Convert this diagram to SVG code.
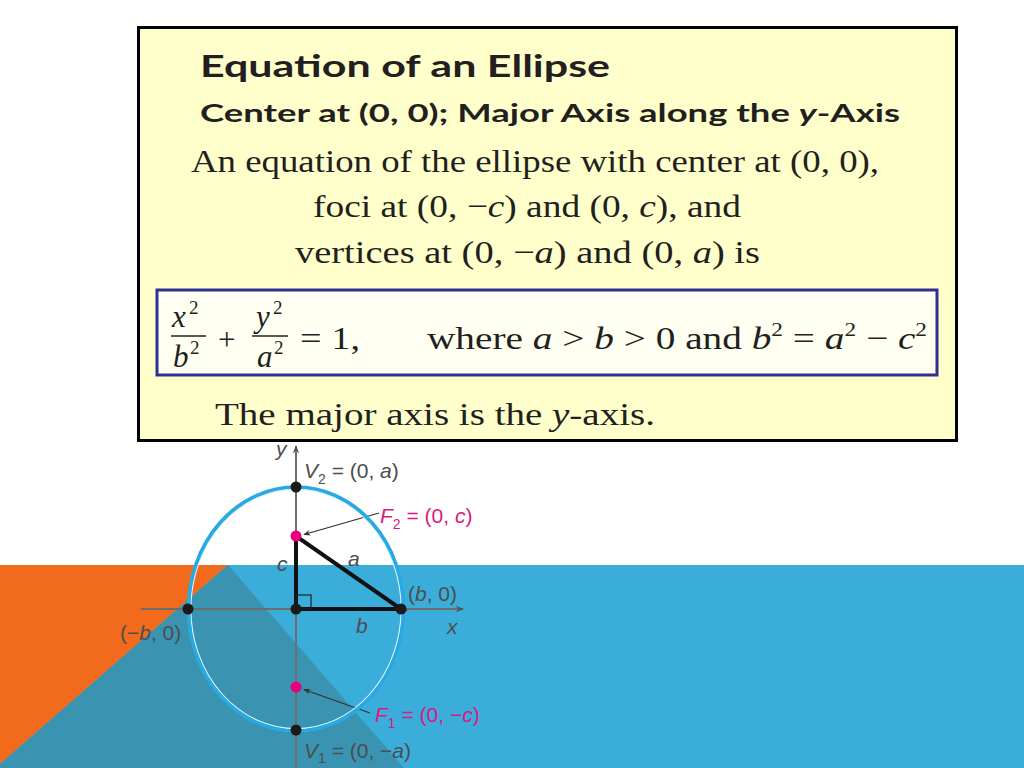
<svg xmlns="http://www.w3.org/2000/svg" width="1024" height="768" viewBox="0 0 1024 768">
<style>
.ttl{font-family:Lato,"Open Sans",sans-serif;font-weight:bold;fill:#231f20}
.ser{font-family:"Liberation Serif","Times New Roman",serif;fill:#231f20}
.it{font-style:italic}
.lab{font-family:"Liberation Sans",Arial,sans-serif;font-size:21px;fill:#4d4d4d}
.mag{fill:#d81b7f}
.ax{stroke:#6d6d6d;stroke-width:2;fill:none}
.dot{fill:#1a1a1a}
.fdot{fill:#e6007e}
.tri{stroke:#111;stroke-width:4;fill:none;stroke-linejoin:miter}
.ptr{stroke:#333;stroke-width:1.3;fill:none}
</style>
<defs>
<marker id="axh" viewBox="0 0 10 10" refX="9" refY="5" markerWidth="10" markerHeight="8" orient="auto" markerUnits="userSpaceOnUse">
<path d="M0,1 L10,5 L0,9 L3,5 Z" fill="#555"/>
</marker>
<marker id="ph" viewBox="0 0 10 10" refX="9" refY="5" markerWidth="10" markerHeight="7" orient="auto" markerUnits="userSpaceOnUse">
<path d="M0,1 L10,5 L0,9 L3,5 Z" fill="#333"/>
</marker>
</defs>
<rect width="1024" height="768" fill="#ffffff"/>
<g id="background">
<rect x="0" y="565" width="1024" height="203" fill="#3badda"/>
<polygon points="0,565 228,565 0,764" fill="#f26b1d"/>
<polygon points="228,565 404,768 0,768 0,764" fill="#3a94b1"/>
</g>
<g id="textbox">
<rect x="138.5" y="27.5" width="818" height="413" fill="#ffffcc" stroke="#000" stroke-width="3"/>
<text class="ttl" x="200" y="77" font-size="31" textLength="410" lengthAdjust="spacingAndGlyphs">Equation of an Ellipse</text>
<text class="ttl" x="200" y="122" font-size="24" textLength="700" lengthAdjust="spacingAndGlyphs">Center at (0, 0); Major Axis along the <tspan class="it">y</tspan>-Axis</text>
<text class="ser" x="191" y="172" font-size="32" textLength="688" lengthAdjust="spacingAndGlyphs">An equation of the ellipse with center at (0, 0),</text>
<text class="ser" x="313" y="217" font-size="32" textLength="428" lengthAdjust="spacingAndGlyphs">foci at (0, −<tspan class="it">c</tspan>) and (0, <tspan class="it">c</tspan>), and</text>
<text class="ser" x="295" y="263" font-size="32" textLength="465" lengthAdjust="spacingAndGlyphs">vertices at (0, −<tspan class="it">a</tspan>) and (0, <tspan class="it">a</tspan>) is</text>
<text class="ser" x="215" y="425" font-size="32" textLength="440" lengthAdjust="spacingAndGlyphs">The major axis is the <tspan class="it">y</tspan>-axis.</text>
</g>
<g id="formula">
<rect x="157" y="290" width="780" height="85" fill="#fffff2" stroke="#2e3192" stroke-width="3"/>
<text class="ser it" x="172" y="327" font-size="31">x</text>
<text class="ser" x="189" y="314" font-size="19">2</text>
<line x1="171" y1="336" x2="206" y2="336" stroke="#231f20" stroke-width="1.4"/>
<text class="ser it" x="173" y="367" font-size="31">b</text>
<text class="ser" x="190" y="354" font-size="19">2</text>
<text class="ser" x="218" y="350" font-size="31">+</text>
<text class="ser it" x="256" y="327" font-size="31">y</text>
<text class="ser" x="273" y="314" font-size="19">2</text>
<line x1="252" y1="336" x2="288" y2="336" stroke="#231f20" stroke-width="1.4"/>
<text class="ser it" x="257" y="367" font-size="31">a</text>
<text class="ser" x="274" y="354" font-size="19">2</text>
<text class="ser" x="300" y="349" font-size="31" textLength="60" lengthAdjust="spacingAndGlyphs">= 1,</text>
<text class="ser" x="427" y="349" font-size="32" textLength="500" lengthAdjust="spacingAndGlyphs">where <tspan class="it">a</tspan> &gt; <tspan class="it">b</tspan> &gt; 0 and <tspan class="it">b</tspan><tspan font-size="19" dy="-13">2</tspan><tspan dy="13"> = </tspan><tspan class="it">a</tspan><tspan font-size="19" dy="-13">2</tspan><tspan dy="13"> − </tspan><tspan class="it">c</tspan><tspan font-size="19" dy="-13">2</tspan></text>
</g>
<g id="connectors">
<line class="ax" x1="296" y1="768" x2="296" y2="446" marker-end="url(#axh)"/>
<line class="ax" x1="141" y1="609" x2="463" y2="609" marker-end="url(#axh)"/>
<line class="ptr" x1="379" y1="513" x2="304" y2="534.5" marker-end="url(#ph)"/>
<line class="ptr" x1="370" y1="713" x2="304" y2="689.5" marker-end="url(#ph)"/>
</g>
<g id="ellipse">
<ellipse cx="296" cy="609" rx="105.3" ry="119.8" fill="none" stroke="#dff2fb" stroke-width="1.4"/>
<ellipse cx="296" cy="609" rx="107.5" ry="122" fill="none" stroke="#27a9e1" stroke-width="3.6"/>
</g>
<g id="triangle">
<path class="tri" d="M296,536 L296,609 L401,609 Z"/>
<rect x="296" y="595" width="15" height="14" fill="none" stroke="#222" stroke-width="1.2"/>
</g>
<g id="points">
<circle class="dot" cx="296" cy="487" r="5.5"/>
<circle class="dot" cx="296" cy="609" r="5.5"/>
<circle class="dot" cx="188" cy="609" r="5.5"/>
<circle class="dot" cx="401" cy="609" r="5.5"/>
<circle class="dot" cx="296" cy="730" r="5.5"/>
<circle class="fdot" cx="296" cy="536" r="5.5"/>
<circle class="fdot" cx="296" cy="687" r="5.5"/>
</g>
<g id="labels">
<text class="lab it" x="276" y="456">y</text>
<text class="lab it" x="447" y="634">x</text>
<text class="lab" x="304" y="478"><tspan class="it">V</tspan><tspan font-size="14" dy="6">2</tspan><tspan dy="-6"> = (0, </tspan><tspan class="it">a</tspan>)</text>
<text class="lab mag" x="380" y="523"><tspan class="it">F</tspan><tspan font-size="14" dy="6">2</tspan><tspan dy="-6"> = (0, </tspan><tspan class="it">c</tspan>)</text>
<text class="lab it" x="277" y="571">c</text>
<text class="lab it" x="348" y="566">a</text>
<text class="lab" x="408" y="601">(<tspan class="it">b</tspan>, 0)</text>
<text class="lab" x="120" y="640">(−<tspan class="it">b</tspan>, 0)</text>
<text class="lab it" x="356" y="633">b</text>
<text class="lab mag" x="375" y="722"><tspan class="it">F</tspan><tspan font-size="14" dy="6">1</tspan><tspan dy="-6"> = (0, −</tspan><tspan class="it">c</tspan>)</text>
<text class="lab" x="304" y="758"><tspan class="it">V</tspan><tspan font-size="14" dy="5">1</tspan><tspan dy="-5"> = (0, −</tspan><tspan class="it">a</tspan>)</text>
</g>
</svg>
